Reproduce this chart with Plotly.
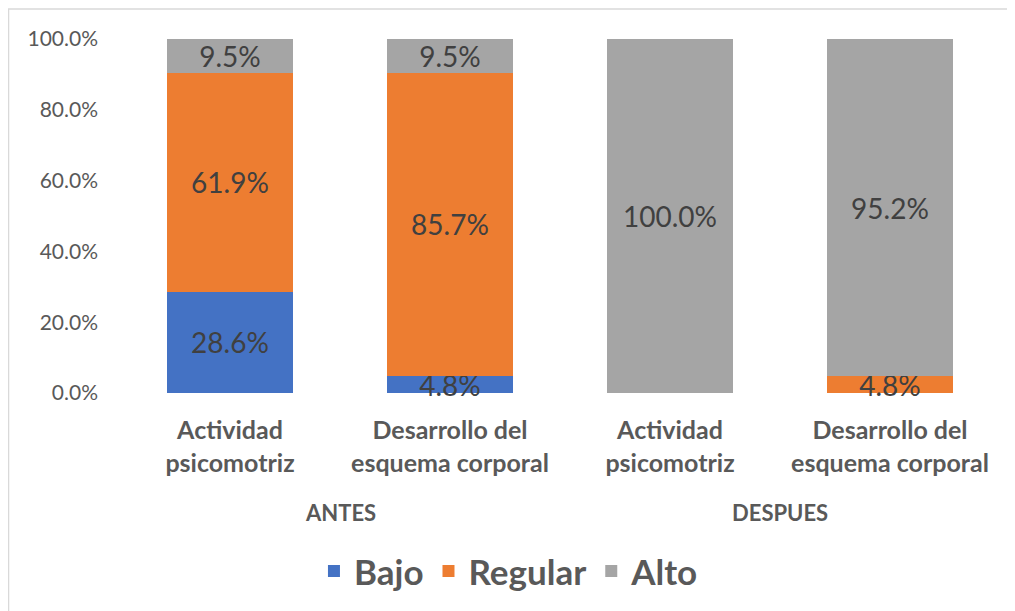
import plotly.graph_objects as go

groups = ["ANTES", "DESPUES"]
categories = ["Actividad<br>psicomotriz", "Desarrollo del<br>esquema corporal",
              "Actividad<br>psicomotriz", "Desarrollo del<br>esquema corporal"]
bajo = [28.6, 4.8, 0, 0]
regular = [61.9, 85.7, 0, 4.8]
alto = [9.5, 9.5, 100.0, 95.2]
series = [("Bajo", bajo, "#4472C4"), ("Regular", regular, "#ED7D31"), ("Alto", alto, "#A5A5A5")]

FONT = "Lato, Open Sans, sans-serif"
xpos = list(range(len(categories)))
fig = go.Figure()
for name, vals, color in series:
    fig.add_trace(go.Bar(
        name=name, x=xpos, y=vals, marker_color=color,
        marker_line_width=0,
        text=[f"{v:.1f}%" if v > 0 else "" for v in vals],
        textposition="inside", insidetextanchor="middle",
        textfont=dict(size=28, color="#404040", family=FONT),
        constraintext="none", cliponaxis=False,
    ))

fig.update_layout(
    barmode="stack", bargap=0.427,
    width=1007, height=603,
    margin=dict(l=112, r=15, t=31, b=218, autoexpand=False),
    paper_bgcolor="white", plot_bgcolor="white",
    uniformtext=dict(minsize=28, mode="show"),
    font=dict(family=FONT, color="#595959"),
    legend=dict(orientation="h", x=0.442, xanchor="center", y=-0.42, yanchor="top",
                bgcolor="rgba(0,0,0,0)",
                font=dict(size=35, color="#595959", family=FONT, weight="bold"),
                itemwidth=30, traceorder="normal"),
    showlegend=True,
)
fig.update_xaxes(range=[-0.5, len(categories) - 0.5], tickvals=xpos, ticktext=categories,
                 showline=False, ticks="", showgrid=False, zeroline=False,
                 automargin=False, ticklabelstandoff=20,
                 tickfont=dict(size=25, color="#595959", family=FONT, weight="bold"))
fig.update_yaxes(range=[0, 100], dtick=20, tickformat=".1f", ticksuffix="%",
                 showgrid=False, zeroline=False, showline=False, automargin=False,
                 ticklabelstandoff=21,
                 tickfont=dict(size=21, color="#595959", family=FONT))
for i, g in enumerate(groups):
    fig.add_annotation(x=2 * i + 0.5, xref="x", y=-0.337, yref="paper", text=g,
                       showarrow=False, yanchor="middle",
                       font=dict(size=22, color="#595959", family=FONT, weight="bold"))
fig.add_shape(type="rect", xref="paper", yref="paper",
              x0=-0.1267, x1=1.05, y0=-0.7, y1=1.0847,
              line=dict(color="#D9D9D9", width=1.5), fillcolor="rgba(0,0,0,0)", layer="below")
fig.write_html("out.html")
